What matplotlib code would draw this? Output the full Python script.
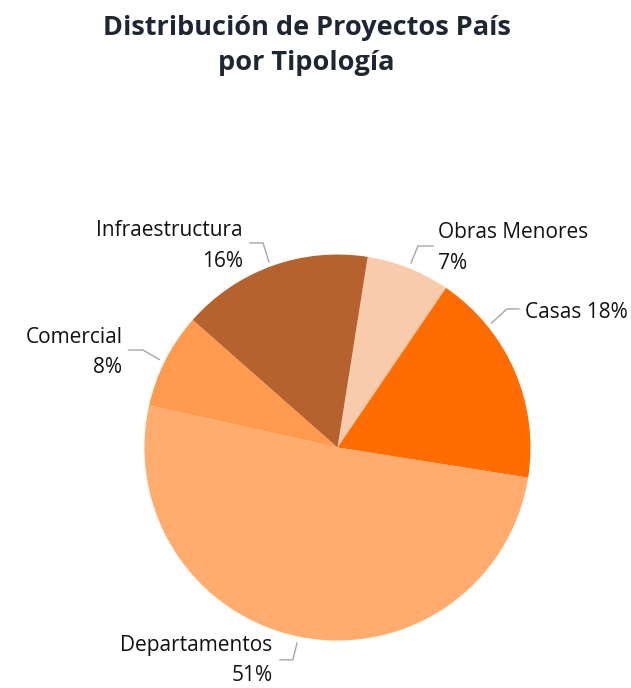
import matplotlib
matplotlib.use("Agg")
import matplotlib.pyplot as plt
import numpy as np

# Datos
categorias = ["Obras Menores", "Casas", "Departamentos", "Comercial", "Infraestructura"]
porcentajes = [7, 18, 51, 8, 16]
colores = ["#F8CBAD", "#FF6D00", "#FFAC6E", "#FF9A4E", "#B5622E"]

# Posiciones de etiquetas (en radios del pie): texto, codo, punta
etiquetas = {
    "Obras Menores":   dict(txt=(0.521, 1.034), ha="left",  sep="\n", codo=(0.495, 0.417), punta=(0.381, 0.956), y=1.044),
    "Casas":           dict(txt=(0.972, 0.702), ha="left",  sep=" ",  codo=(0.940, 0.878), punta=(0.798, 0.645), y=0.718),
    "Departamentos":   dict(txt=(-0.336, -1.105), ha="right", sep="\n", codo=(-0.298, -0.231), punta=(-0.210, -1.013), y=-1.100),
    "Comercial":       dict(txt=(-1.114, 0.492), ha="right", sep="\n", codo=(-1.083, -1.008), punta=(-0.923, 0.456), y=0.505),
    "Infraestructura": dict(txt=(-0.490, 1.044), ha="right", sep="\n", codo=(-0.453, -0.386), punta=(-0.355, 0.961), y=1.060),
}

plt.rcParams['font.family'] = ['Open Sans', 'DejaVu Sans']

fig = plt.figure(figsize=(6.31, 6.88), dpi=100)
ax = fig.add_axes([144.5 / 631, 47.5 / 688, 386 / 631, 386 / 688])

ax.pie(porcentajes, colors=colores, startangle=81, counterclock=False,
       radius=1, wedgeprops=dict(linewidth=0))
ax.set_xlim(-1, 1)
ax.set_ylim(-1, 1)
ax.set_aspect("equal")
ax.axis("off")

for cat, pct in zip(categorias, porcentajes):
    e = etiquetas[cat]
    ax.text(e["txt"][0], e["txt"][1], f"{cat}{e['sep']}{pct}%", ha=e["ha"], va="center",
            multialignment=e["ha"], fontsize=15, color="#111111", linespacing=1.58)
    x0, x1 = e["codo"]
    ax.plot([x0, x1, e["punta"][0]], [e["y"], e["y"], e["punta"][1]],
            color="#A6A6A6", linewidth=1, clip_on=False)

fig.text(0.486, 0.934, "Distribución de Proyectos País\npor Tipología", ha="center", va="center",
         fontsize=19.5, fontweight="bold", color="#1E2633", linespacing=1.48)

fig.savefig("out.png", dpi=100)
